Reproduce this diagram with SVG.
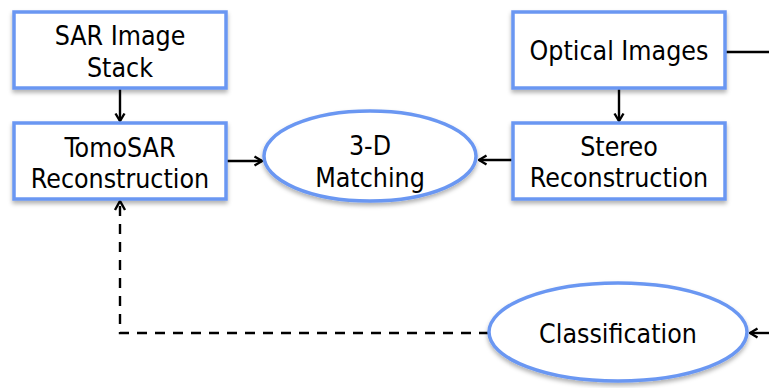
<svg xmlns="http://www.w3.org/2000/svg" width="769" height="388" viewBox="0 0 769 388">
<style>
.box{fill:#fff;stroke:#6b97f2;stroke-width:3.5;filter:url(#sh)}
.t{font-family:"DejaVu Sans Condensed","DejaVu Sans",Verdana,sans-serif;font-stretch:condensed;font-size:26.5px;fill:#000;text-anchor:middle}
.c{fill:none;stroke:#000;stroke-width:2.4}
.d{stroke-dasharray:10,8}
</style>
<defs>
<filter id="sh" x="-10%" y="-10%" width="120%" height="130%">
<feDropShadow dx="0" dy="3" stdDeviation="2" flood-color="#000" flood-opacity="0.3"/>
</filter>
<marker id="ah" viewBox="0 0 12 12" refX="10.5" refY="6" markerWidth="12" markerHeight="12" markerUnits="userSpaceOnUse" orient="auto">
<polyline points="3,1.5 10.5,6 3,10.5" fill="none" stroke="#000" stroke-width="2.4"/>
</marker>
</defs>
<g id="connectors">
<line class="c" x1="120" y1="89" x2="120" y2="121" marker-end="url(#ah)"/>
<line class="c" x1="619" y1="89" x2="619" y2="121" marker-end="url(#ah)"/>
<line class="c" x1="227" y1="161" x2="262" y2="161" marker-end="url(#ah)"/>
<line class="c" x1="512" y1="160" x2="479" y2="160" marker-end="url(#ah)"/>
<line class="c" x1="726" y1="52" x2="769" y2="52"/>
<line class="c" x1="769" y1="333" x2="750" y2="333" marker-end="url(#ah)"/>
<polyline class="c d" points="489,333 120,333 120,203"/>
<polyline points="115,210 120,201 125,210" fill="none" stroke="#000" stroke-width="2.4"/>
</g>
<g id="sar-stack">
<rect class="box" x="14" y="12" width="212" height="76"/>
<text class="t" x="120" y="45">SAR Image</text>
<text class="t" x="120" y="77">Stack</text>
</g>
<g id="tomosar">
<rect class="box" x="14" y="123" width="212" height="76"/>
<text class="t" x="120" y="157">TomoSAR</text>
<text class="t" x="120" y="188">Reconstruction</text>
</g>
<g id="optical">
<rect class="box" x="513" y="12" width="212" height="76"/>
<text class="t" x="619" y="60">Optical Images</text>
</g>
<g id="stereo">
<rect class="box" x="513" y="123" width="212" height="76"/>
<text class="t" x="619" y="156">Stereo</text>
<text class="t" x="619" y="187">Reconstruction</text>
</g>
<g id="matching">
<ellipse class="box" cx="370" cy="156" rx="106" ry="45"/>
<text class="t" x="370" y="155">3-D</text>
<text class="t" x="370" y="187">Matching</text>
</g>
<g id="classification">
<ellipse class="box" cx="618" cy="332" rx="129" ry="49"/>
<text class="t" x="618" y="343">Classification</text>
</g>
</svg>
